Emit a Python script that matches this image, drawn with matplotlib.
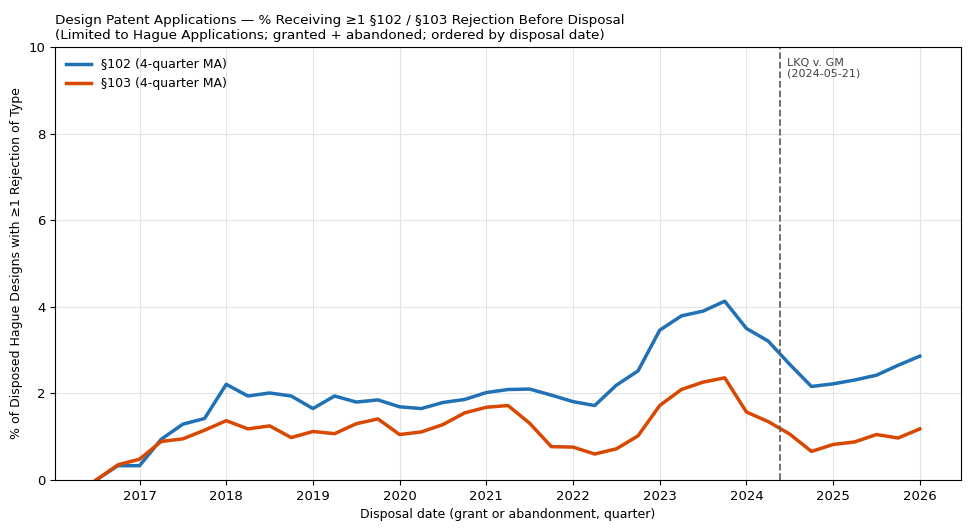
import matplotlib
matplotlib.use("Agg")
import matplotlib.pyplot as plt
import numpy as np

quarters = [2016.5 + 0.25 * i for i in range(39)]
s102 = [0.0, 0.33, 0.33, 0.94, 1.29, 1.42, 2.21, 1.94, 2.01, 1.94,
        1.65, 1.94, 1.80, 1.85, 1.69, 1.65, 1.79, 1.86, 2.02, 2.09,
        2.10, 1.96, 1.81, 1.72, 2.19, 2.52, 3.46, 3.79, 3.90, 4.13,
        3.50, 3.21, 2.67, 2.16, 2.22, 2.31, 2.42, 2.65, 2.86]
s103 = [0.0, 0.35, 0.48, 0.89, 0.95, 1.15, 1.37, 1.18, 1.25, 0.98,
        1.12, 1.07, 1.30, 1.41, 1.05, 1.11, 1.28, 1.55, 1.68, 1.72,
        1.31, 0.77, 0.76, 0.60, 0.72, 1.02, 1.72, 2.09, 2.26, 2.36,
        1.57, 1.35, 1.06, 0.66, 0.82, 0.88, 1.05, 0.97, 1.18]
event_x = 2024 + 141 / 366
event_label = "LKQ v. GM\n(2024-05-21)"
year_ticks = list(range(2017, 2027))

fig = plt.figure(figsize=(9.75, 5.32), dpi=100)
ax = fig.add_axes([55 / 975, 1 - 480 / 532, (961 - 55) / 975, (480 - 47) / 532])

ax.plot(quarters, s102, color="#2171b5", lw=2.5, label="§102 (4-quarter MA)")
ax.plot(quarters, s103, color="#d94801", lw=2.5, label="§103 (4-quarter MA)")
ax.axvline(event_x, color="#666666", ls="--", lw=1.3)
ax.text(event_x + 0.08, 9.75, event_label, fontsize=8, color="#444444", va="top", ha="left",
        linespacing=1.05)

ax.set_ylim(0, 10)
ax.set_xticks(year_ticks)
ax.set_xticklabels([str(y) for y in year_ticks])
ax.tick_params(labelsize=9.5)
ax.grid(True, color="#e4e4e4", lw=0.8)
ax.set_axisbelow(True)
ax.set_xlabel("Disposal date (grant or abandonment, quarter)", fontsize=9)
ax.set_ylabel("% of Disposed Hague Designs with ≥1 Rejection of Type", fontsize=9)
ax.set_title("Design Patent Applications — % Receiving ≥1 §102 / §103 Rejection Before Disposal\n"
             "(Limited to Hague Applications; granted + abandoned; ordered by disposal date)",
             loc="left", fontsize=9.7)
ax.legend(loc="upper left", frameon=False, fontsize=9)

fig.savefig("out.png", dpi=100)
